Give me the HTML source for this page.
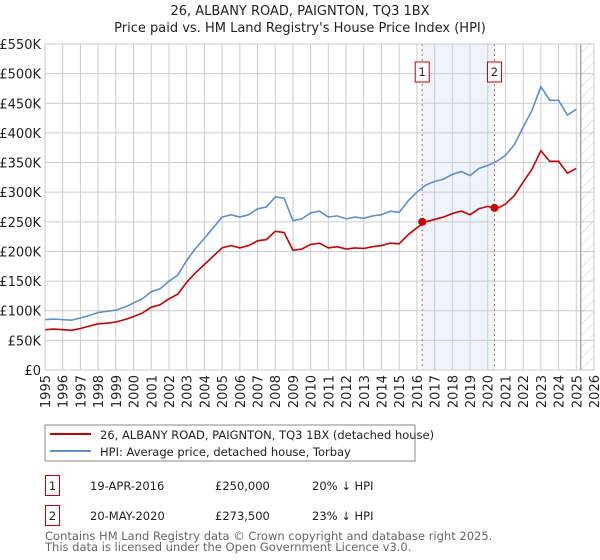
<!DOCTYPE html>
<html><head><meta charset="utf-8"><style>
body{margin:0;background:#fff;font-family:"DejaVu Sans","Liberation Sans",sans-serif;}
svg{display:block}
</style></head><body>
<svg id="chart" width="600" height="560" xmlns="http://www.w3.org/2000/svg" font-family="DejaVu Sans, Liberation Sans, sans-serif">
<defs><pattern id="hatch" width="8" height="8" patternUnits="userSpaceOnUse" patternTransform="rotate(45)"><line x1="0" y1="0" x2="0" y2="8" stroke="#ccc" stroke-width="1"/></pattern></defs>
<text x="300" y="15" text-anchor="middle" font-size="13" fill="#222">26, ALBANY ROAD, PAIGNTON, TQ3 1BX</text>
<text x="300" y="32" text-anchor="middle" font-size="13" fill="#222">Price paid vs. HM Land Registry's House Price Index (HPI)</text>
<g id="grid"></g>
<g id="marks"></g>
<g id="axes"></g>
<rect x="45" y="425" width="370" height="36" fill="none" stroke="#888"/>
<line x1="50" y1="434" x2="91" y2="434" stroke="#cc0000" stroke-width="2"/>
<text x="100" y="439" font-size="11.5" fill="#222">26, ALBANY ROAD, PAIGNTON, TQ3 1BX (detached house)</text>
<line x1="50" y1="451" x2="91" y2="451" stroke="#5b8fd0" stroke-width="2"/>
<text x="100" y="456" font-size="11.5" fill="#222">HPI: Average price, detached house, Torbay</text>
<g>
<rect x="45.5" y="475.5" width="14" height="20" fill="#fff" stroke="#cc0000"/>
<text x="52.5" y="490" text-anchor="middle" font-size="11.5" fill="#222">1</text>
<text x="90" y="490" font-size="11.5" fill="#222">19-APR-2016</text>
<text x="215" y="490" font-size="11.5" fill="#222">£250,000</text>
<text x="312" y="490" font-size="11.5" fill="#222">20% ↓ HPI</text>
</g>
<g>
<rect x="45.5" y="505.5" width="14" height="20" fill="#fff" stroke="#cc0000"/>
<text x="52.5" y="520" text-anchor="middle" font-size="11.5" fill="#222">2</text>
<text x="90" y="520" font-size="11.5" fill="#222">20-MAY-2020</text>
<text x="215" y="520" font-size="11.5" fill="#222">£273,500</text>
<text x="312" y="520" font-size="11.5" fill="#222">23% ↓ HPI</text>
</g>
<text x="45" y="540" font-size="11.5" fill="#666">Contains HM Land Registry data © Crown copyright and database right 2025.</text>
<text x="45" y="551" font-size="11.5" fill="#666">This data is licensed under the Open Government Licence v3.0.</text>
</svg>
<script>
const years = [1995,1995.5,1996,1996.5,1997,1997.5,1998,1998.5,1999,1999.5,2000,2000.5,2001,2001.5,2002,2002.5,2003,2003.5,2004,2004.5,2005,2005.5,2006,2006.5,2007,2007.5,2008,2008.5,2009,2009.5,2010,2010.5,2011,2011.5,2012,2012.5,2013,2013.5,2014,2014.5,2015,2015.5,2016,2016.5,2017,2017.5,2018,2018.5,2019,2019.5,2020,2020.5,2021,2021.5,2022,2022.5,2023,2023.5,2024,2024.5,2025];
const hpiValues = [85,86,85,84,88,92,97,99,101,106,113,120,132,137,150,160,185,205,222,240,258,262,258,262,272,275,292,290,252,255,265,268,258,260,255,258,256,260,262,268,266,285,300,312,318,322,330,335,328,340,345,352,362,380,410,438,478,455,455,430,440];
const propertyValues = [68,69,68,67,70,74,78,79,81,85,90,96,106,110,120,128,148,164,178,192,206,210,206,210,218,220,234,232,202,204,212,214,206,208,204,206,205,208,210,214,213,228,240,250,254,258,264,268,262,272,276,272,280,294,317,339,370,352,352,332,340];
const saleYears = [2016.3, 2020.38];
const salePrices = [250000, 273500];
const saleLabels = ["1","2"];
const yTicks = [0,50,100,150,200,250,300,350,400,450,500,550];
const yTickLabels = ["£0","£50K","£100K","£150K","£200K","£250K","£300K","£350K","£400K","£450K","£500K","£550K"];
const xTicks = [1995,1996,1997,1998,1999,2000,2001,2002,2003,2004,2005,2006,2007,2008,2009,2010,2011,2012,2013,2014,2015,2016,2017,2018,2019,2020,2021,2022,2023,2024,2025,2026];
const dataEnd = 2025.25;

const X0=45,X1=594,Y0=370,Y1=44;
const xs=y=>X0+(y-1995)/31*(X1-X0);
const ys=v=>Y0-v/550*(Y0-Y1);
const NS="http://www.w3.org/2000/svg";
function mk(tag,attrs,parent){const e=document.createElementNS(NS,tag);for(const k in attrs)e.setAttribute(k,attrs[k]);parent.appendChild(e);return e;}
const grid=document.getElementById('grid'),marks=document.getElementById('marks'),axes=document.getElementById('axes');

const shade=mk('rect',{x:xs(saleYears[0]),y:Y1,width:xs(saleYears[1])-xs(saleYears[0]),height:Y0-Y1,fill:'#eef3fc'},grid);


const hatch=mk('rect',{x:xs(dataEnd),y:Y1,width:X1-xs(dataEnd),height:Y0-Y1,fill:'url(#hatch)'},grid);



yTicks.forEach((t,i)=>{
  const l=mk('line',{x1:X0,x2:X1,y1:ys(t),y2:ys(t),stroke:'#ccc','stroke-width':1},grid);
  
  
  const tx=mk('text',{x:X0-4,y:ys(t)+5,'text-anchor':'end','font-size':13,fill:'#222'},axes);
  tx.textContent=yTickLabels[i];
  
  
});
xTicks.forEach(t=>{
  const l=mk('line',{x1:xs(t),x2:xs(t),y1:Y1,y2:Y0,stroke:'#ccc','stroke-width':1},grid);
  
  
  const px=xs(t)+5, py=Y0+5;
  const tx=mk('text',{x:px,y:py,'text-anchor':'end','font-size':13,fill:'#222',transform:'rotate(-90 '+px+' '+py+')'},axes);
  tx.textContent=String(t);
  
  
});
const endLine=mk('line',{x1:xs(dataEnd),x2:xs(dataEnd),y1:Y1,y2:Y0,stroke:'#999','stroke-width':1.2},grid);



saleYears.forEach((sy,i)=>{
  const l=mk('line',{x1:xs(sy),x2:xs(sy),y1:Y1,y2:Y0,stroke:'#e06060','stroke-width':1,'stroke-dasharray':'2,3'},marks);
  
  
});

const hp=mk('polyline',{points:years.map((y,i)=>xs(y)+','+ys(hpiValues[i])).join(' '),fill:'none',stroke:'#5b8fd0','stroke-width':1.6},marks);


const pp=mk('polyline',{points:years.map((y,i)=>xs(y)+','+ys(propertyValues[i])).join(' '),fill:'none',stroke:'#cc0000','stroke-width':1.6},marks);



saleYears.forEach((sy,i)=>{
  const c=mk('circle',{cx:xs(sy),cy:ys(salePrices[i]/1000),r:4,fill:'#cc0000'},marks);
  
  
  const g=mk('g',{},marks);
  
  
  mk('rect',{x:xs(sy)-7,y:62,width:14,height:20,fill:'#fff',stroke:'#cc0000'},g);
  const t=mk('text',{x:xs(sy),y:76,'text-anchor':'middle','font-size':11.5,fill:'#222'},g);
  t.textContent=saleLabels[i];
});
const frame=mk('rect',{x:X0,y:Y1,width:X1-X0,height:Y0-Y1,fill:'none',stroke:'#ccc'},axes);


</script>
</body></html>
